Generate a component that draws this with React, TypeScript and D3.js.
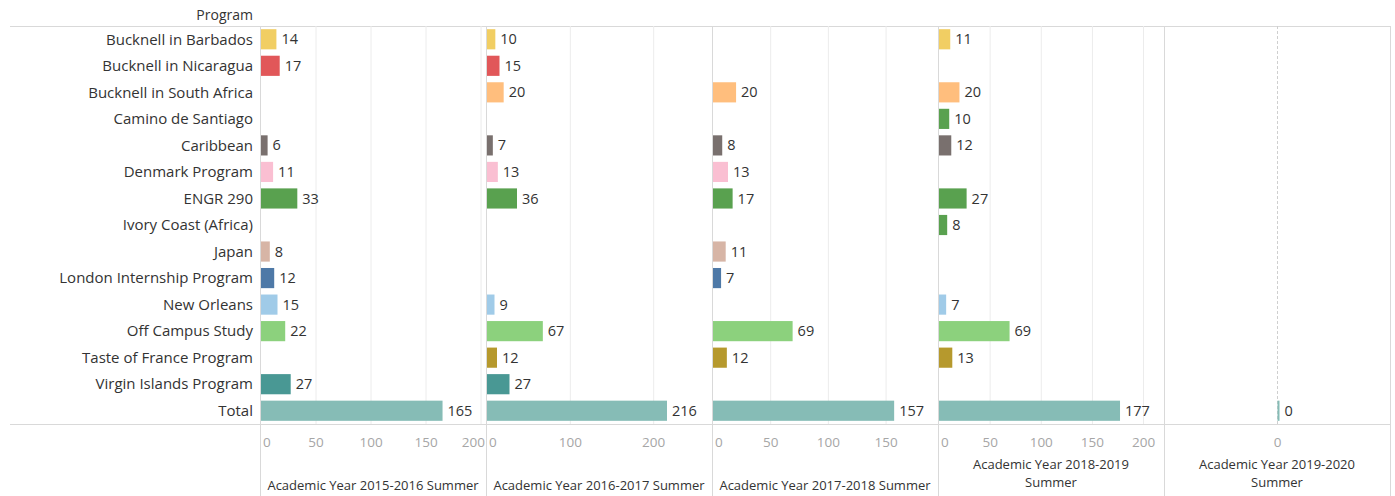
import React from 'react';
import * as d3 from 'd3';

// programs (rows) and the colour Tableau gave each one
const programs = [
  'Bucknell in Barbados',
  'Bucknell in Nicaragua',
  'Bucknell in South Africa',
  'Camino de Santiago',
  'Caribbean',
  'Denmark Program',
  'ENGR 290',
  'Ivory Coast (Africa)',
  'Japan',
  'London Internship Program',
  'New Orleans',
  'Off Campus Study',
  'Taste of France Program',
  'Virgin Islands Program',
  'Total'
];

const programColors = [
  '#F1CE63', '#E15759', '#FFBE7D', '#59A14F', '#79706E', '#FABFD2', '#59A14F',
  '#59A14F', '#D7B5A6', '#4E79A7', '#A0CBE8', '#8CD17D', '#B6992D', '#499894', '#86BCB6'
];

// one array per academic year, null = no trip that summer
const years = [
  'Academic Year 2015-2016 Summer',
  'Academic Year 2016-2017 Summer',
  'Academic Year 2017-2018 Summer',
  'Academic Year 2018-2019 Summer',
  'Academic Year 2019-2020 Summer'
];

const values2015 = [14, 17, null, null, 6, 11, 33, null, 8, 12, 15, 22, null, 27, 165];
const values2016 = [10, 15, 20, null, 7, 13, 36, null, null, null, 9, 67, 12, 27, 216];
const values2017 = [null, null, 20, null, 8, 13, 17, null, 11, 7, null, 69, 12, null, 157];
const values2018 = [11, null, 20, 10, 12, null, 27, 8, null, null, 7, 69, 13, null, 177];
const values2019 = [null, null, null, null, null, null, null, null, null, null, null, null, null, null, 0];

const yearValues = [values2015, values2016, values2017, values2018, values2019];

// axis extents and ticks of each pane
const domains: [number, number][] = [[0, 204.5], [0, 270], [0, 195], [0, 220], [-1, 1]];
const tickValues = [
  [0, 50, 100, 150, 200],
  [0, 100, 200],
  [0, 50, 100, 150],
  [0, 50, 100, 150, 200],
  [0]
];
// titles wrapped on two lines where the pane is too narrow
const titleLines = [
  ['Academic Year 2015-2016 Summer'],
  ['Academic Year 2016-2017 Summer'],
  ['Academic Year 2017-2018 Summer'],
  ['Academic Year 2018-2019', 'Summer'],
  ['Academic Year 2019-2020', 'Summer']
];

const font = '"Open Sans", "Noto Sans", sans-serif';

export default function App() {
  const width = 1395;
  const height = 496;
  const top = 26;
  const rowsBottom = 424;
  const labelRight = 253;
  const paneLeft = 260;
  const paneW = 226;
  const line = '#d9d9d9';

  const y = d3.scaleBand()
    .domain(programs)
    .range([top, rowsBottom])
    .paddingInner(0.24)
    .paddingOuter(0.12);

  const panes = years.map(function(yr, i) {
    const x0 = paneLeft + i * paneW;
    const x = d3.scaleLinear().domain(domains[i]).range([x0 + 1, x0 + paneW]);
    const vals = yearValues[i];

    const grid = tickValues[i].filter(t => t !== 0).map(t => (
      <line key={'g' + t} x1={x(t)} x2={x(t)} y1={top} y2={rowsBottom} stroke="#ececec" strokeWidth={1} />
    ));

    const zeroLine = i === 4 ? (
      <line x1={x(0)} x2={x(0)} y1={top} y2={rowsBottom} stroke="#cfcfcf" strokeDasharray="3,2" />
    ) : null;

    const bars = vals.map(function(v, j) {
      if (v === null) return null;
      const bx = x(0);
      const bw = Math.max(x(v) - bx, 2);
      const by = y(programs[j]) as number;
      return (
        <g key={j}>
          <rect x={bx} y={by} width={bw} height={y.bandwidth()} fill={programColors[j]} />
          <text x={bx + bw + 5} y={by + y.bandwidth() / 2} dy="0.35em"
                fontSize={14.5} fill="#333" fontFamily={font}>{v}</text>
        </g>
      );
    });

    const ticks = tickValues[i].map(function(t, k) {
      let tx = x(t);
      let anchor = 'middle';
      if (i < 4 && t === 0) { tx = x0 + 3; anchor = 'start'; }
      else if (k === tickValues[i].length - 1 && x(t) + 12 > x0 + paneW) { tx = x0 + paneW - 1; anchor = 'end'; }
      return (
        <text key={'t' + t} x={tx} y={442} dy="0.35em" textAnchor={anchor}
              fontSize={13.5} fill="#a6a6a6" fontFamily={font}>{t}</text>
      );
    });

    const lines = titleLines[i];
    const title = lines.map((l, k) => (
      <text key={'h' + k} x={x0 + paneW / 2} textAnchor="middle" fontSize={13} fill="#333" fontFamily={font}
            y={lines.length === 1 ? 485 : 464 + k * 18} dy="0.35em">{l}</text>
    ));

    return (
      <g key={yr}>
        {grid}
        {zeroLine}
        {bars}
        {ticks}
        {title}
        <line x1={x0 + paneW + 0.5} x2={x0 + paneW + 0.5} y1={top} y2={height} stroke={line} />
      </g>
    );
  });

  const rowLabels = programs.map(p => (
    <text key={p} x={labelRight} y={(y(p) as number) + y.bandwidth() / 2} dy="0.35em"
          textAnchor="end" fontSize={15} fill="#333" fontFamily={font}>{p}</text>
  ));

  return (
    <div style={{ position: 'absolute', left: 0, top: 0 }}>
      <svg width={width} height={height} style={{ display: 'block', background: '#fff' }}>
        <text x={labelRight} y={15} dy="0.35em" textAnchor="end" fontSize={14} fill="#333" fontFamily={font}>Program</text>
        <line x1={10} x2={paneLeft + paneW * 5} y1={top + 0.5} y2={top + 0.5} stroke={line} />
        <line x1={10} x2={paneLeft + paneW * 5} y1={rowsBottom + 0.5} y2={rowsBottom + 0.5} stroke={line} />
        <line x1={paneLeft + 0.5} x2={paneLeft + 0.5} y1={top} y2={height} stroke={line} />
        {rowLabels}
        {panes}
      </svg>
    </div>
  );
}
